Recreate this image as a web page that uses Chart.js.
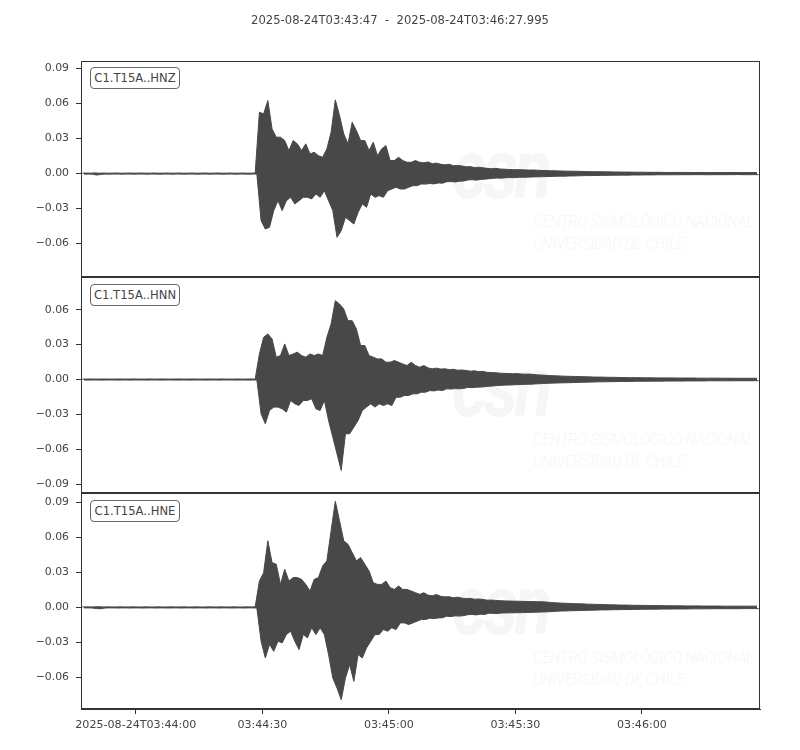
<!DOCTYPE html>
<html>
<head>
<meta charset="utf-8">
<script src="https://cdn.jsdelivr.net/npm/chart.js@4.4.1/dist/chart.umd.min.js"></script>
<style>
  html, body { margin: 0; padding: 0; background: #ffffff; }
  body { width: 800px; height: 750px; position: relative; overflow: hidden; font-family: "DejaVu Sans", sans-serif; }
  canvas { position: absolute; left: 0; z-index: 2; }
  #title { position: absolute; top: 13px; left: 0; width: 800px; text-align: center; font-size: 11.6px; line-height: 15px; color: #444; white-space: pre; z-index: 3; }
  .lbl { position: absolute; left: 90px; box-sizing: border-box; width: 90px; height: 22px; border: 1px solid #666; border-radius: 4px; background: #fff; font-size: 11.6px; line-height: 20px; text-align: center; color: #444; z-index: 3; }
  .wm { position: absolute; color: #f6f6f6; font-style: italic; z-index: 1; white-space: nowrap; font-family: "Roboto", "DejaVu Sans", sans-serif; transform-origin: left top; }
  .wm.big { font-size: 84px; font-weight: bold; letter-spacing: -4px; transform: scaleX(0.82); }
  .wm.small { font-size: 17px; font-weight: 300; transform: scaleX(0.86); }
</style>
</head>
<body>
<div id="title"></div>
<canvas id="c0" width="800" height="277" style="top:0px;width:800px;height:277px"></canvas>
<canvas id="c1" width="800" height="216" style="top:277px;width:800px;height:216px"></canvas>
<canvas id="c2" width="800" height="257" style="top:493px;width:800px;height:257px"></canvas>
<script>
// ---------------- DATA ----------------
const titleText = "2025-08-24T03:43:47  -  2025-08-24T03:46:27.995";
const stationLabels = ["C1.T15A..HNZ", "C1.T15A..HNN", "C1.T15A..HNE"];
const xTickSeconds = [13, 43, 73, 103, 133];            // seconds after 03:43:47
const xTickLabels = ["2025-08-24T03:44:00", "03:44:30", "03:45:00", "03:45:30", "03:46:00"];
const timeEnd = 160.995;
const yTicksHNZ = [-0.06, -0.03, 0.00, 0.03, 0.06, 0.09];
const yTicksHNN = [-0.09, -0.06, -0.03, 0.00, 0.03, 0.06];
const yTicksHNE = [-0.06, -0.03, 0.00, 0.03, 0.06, 0.09];
const yRangeHNZ = [-0.0886, 0.0965];
const yRangeHNN = [-0.0975, 0.0881];
const yRangeHNE = [-0.0868, 0.0978];

// per-second maximum / minimum amplitude, seconds 0..160 after 03:43:47
const hnzHi = [
0.0004,0.0005,0.0004,0.0006,0.0004,0.0005,0.0004,0.0004,0.0005,0.0004,
0.0004,0.0005,0.0004,0.0004,0.0005,0.0004,0.0004,0.0005,0.0004,0.0004,
0.0005,0.0004,0.0004,0.0005,0.0004,0.0004,0.0005,0.0004,0.0004,0.0005,
0.0004,0.0004,0.0005,0.0004,0.0004,0.0005,0.0004,0.0004,0.0005,0.0004,
0.0004,0.0005,
0.0526,0.0512,0.0626,0.0383,0.0312,0.0312,0.0283,0.0197,0.0283,0.0255,
0.0197,0.0255,0.0169,0.0183,0.0154,0.0140,0.0212,0.0355,0.0632,0.0498,
0.0340,0.0255,0.0440,0.0369,0.0283,0.0283,0.0197,0.0269,0.0154,0.0212,
0.0240,0.0112,0.0112,0.0140,0.0112,0.0097,0.0097,0.0112,0.0097,
0.0092,0.0100,0.0085,0.0090,0.0080,0.0075,0.0080,0.0068,0.0070,0.0066,
0.0058,0.0060,0.0052,0.0055,0.0050,0.0045,0.0042,0.0045,0.0040,0.0038,
0.0036,0.0035,0.0034,0.0033,0.0032,0.0030,0.0031,0.0029,0.0027,0.0026,
0.0025,0.0024,0.0023,0.0022,0.0021,0.0021,0.0020,0.0019,0.0018,0.0017,
0.0017,0.0016,0.0016,0.0015,0.0015,0.0014,0.0014,0.0013,0.0013,0.0013,
0.0012,0.0012,0.0012,0.0011,0.0011,0.0011,0.0011,0.0010,0.0010,0.0010,
0.0010,0.0010,0.0010,0.0010,0.0009,0.0010,0.0009,0.0009,0.0010,0.0009,
0.0009,0.0009,0.0010,0.0009,0.0009,0.0009,0.0009,0.0009,0.0009,0.0009];
const hnzLo = [
-0.0005,-0.0004,-0.0005,-0.0012,-0.0007,-0.0004,-0.0005,-0.0004,-0.0004,-0.0005,
-0.0004,-0.0004,-0.0005,-0.0004,-0.0004,-0.0005,-0.0004,-0.0004,-0.0005,-0.0004,
-0.0004,-0.0005,-0.0004,-0.0004,-0.0005,-0.0004,-0.0004,-0.0005,-0.0004,-0.0004,
-0.0005,-0.0004,-0.0004,-0.0005,-0.0004,-0.0004,-0.0005,-0.0004,-0.0004,-0.0005,
-0.0004,-0.0004,
-0.0403,-0.0475,-0.0460,-0.0317,-0.0232,-0.0317,-0.0232,-0.0203,-0.0260,-0.0232,
-0.0203,-0.0203,-0.0217,-0.0174,-0.0203,-0.0146,-0.0232,-0.0317,-0.0546,-0.0489,
-0.0375,-0.0403,-0.0432,-0.0332,-0.0260,-0.0289,-0.0174,-0.0203,-0.0189,-0.0203,
-0.0146,-0.0132,-0.0117,-0.0132,-0.0132,-0.0117,-0.0103,-0.0103,-0.0089,
-0.0090,-0.0085,-0.0088,-0.0080,-0.0082,-0.0070,-0.0068,-0.0072,-0.0065,-0.0064,
-0.0055,-0.0052,-0.0056,-0.0050,-0.0048,-0.0044,-0.0040,-0.0038,-0.0039,-0.0036,
-0.0034,-0.0035,-0.0032,-0.0031,-0.0031,-0.0029,-0.0028,-0.0027,-0.0026,-0.0025,
-0.0024,-0.0023,-0.0022,-0.0022,-0.0020,-0.0020,-0.0019,-0.0018,-0.0017,-0.0017,
-0.0016,-0.0016,-0.0015,-0.0015,-0.0014,-0.0014,-0.0013,-0.0013,-0.0013,-0.0012,
-0.0012,-0.0012,-0.0011,-0.0011,-0.0011,-0.0010,-0.0010,-0.0010,-0.0010,-0.0010,
-0.0010,-0.0009,-0.0010,-0.0009,-0.0009,-0.0009,-0.0009,-0.0010,-0.0009,-0.0009,
-0.0009,-0.0009,-0.0009,-0.0009,-0.0008,-0.0009,-0.0009,-0.0009,-0.0009,-0.0009];

const hnnHi = [
0.0004,0.0004,0.0005,0.0004,0.0004,0.0005,0.0004,0.0004,0.0004,0.0005,
0.0004,0.0004,0.0005,0.0004,0.0004,0.0004,0.0005,0.0004,0.0004,0.0005,
0.0004,0.0004,0.0004,0.0005,0.0004,0.0004,0.0005,0.0004,0.0004,0.0004,
0.0005,0.0004,0.0004,0.0005,0.0004,0.0004,0.0004,0.0005,0.0004,0.0004,
0.0005,0.0004,
0.0220,0.0363,0.0392,0.0349,0.0192,0.0206,0.0306,0.0206,0.0220,0.0235,
0.0206,0.0192,0.0220,0.0206,0.0220,0.0206,0.0363,0.0478,0.0678,0.0649,
0.0606,0.0506,0.0506,0.0435,0.0292,0.0292,0.0206,0.0192,0.0177,0.0177,
0.0149,0.0149,0.0163,0.0149,0.0134,0.0120,0.0149,0.0120,0.0106,
0.0120,0.0100,0.0092,0.0098,0.0090,0.0092,0.0085,0.0088,0.0080,0.0082,
0.0078,0.0072,0.0075,0.0068,0.0070,0.0062,0.0060,0.0058,0.0055,0.0052,
0.0052,0.0050,0.0051,0.0048,0.0046,0.0047,0.0044,0.0040,0.0038,0.0036,
0.0034,0.0032,0.0031,0.0029,0.0028,0.0027,0.0026,0.0025,0.0024,0.0023,
0.0022,0.0021,0.0021,0.0020,0.0019,0.0019,0.0018,0.0017,0.0017,0.0016,
0.0016,0.0016,0.0015,0.0015,0.0015,0.0014,0.0014,0.0014,0.0014,0.0014,
0.0013,0.0013,0.0013,0.0013,0.0013,0.0012,0.0012,0.0012,0.0012,0.0012,
0.0012,0.0011,0.0012,0.0011,0.0011,0.0011,0.0011,0.0011,0.0011,0.0011];
const hnnLo = [
-0.0004,-0.0005,-0.0004,-0.0004,-0.0005,-0.0004,-0.0004,-0.0004,-0.0005,-0.0004,
-0.0004,-0.0005,-0.0004,-0.0004,-0.0004,-0.0005,-0.0004,-0.0004,-0.0005,-0.0004,
-0.0004,-0.0004,-0.0005,-0.0004,-0.0004,-0.0005,-0.0004,-0.0004,-0.0004,-0.0005,
-0.0004,-0.0004,-0.0005,-0.0004,-0.0004,-0.0004,-0.0005,-0.0004,-0.0004,-0.0005,
-0.0004,-0.0004,
-0.0295,-0.0380,-0.0266,-0.0237,-0.0237,-0.0252,-0.0280,-0.0180,-0.0209,-0.0223,
-0.0180,-0.0180,-0.0166,-0.0252,-0.0266,-0.0180,-0.0352,-0.0495,-0.0638,-0.0781,
-0.0466,-0.0466,-0.0409,-0.0352,-0.0266,-0.0237,-0.0209,-0.0237,-0.0209,-0.0223,
-0.0209,-0.0223,-0.0152,-0.0152,-0.0137,-0.0137,-0.0123,-0.0123,-0.0109,
-0.0109,-0.0095,-0.0098,-0.0090,-0.0095,-0.0080,-0.0082,-0.0078,-0.0080,-0.0076,
-0.0068,-0.0070,-0.0066,-0.0065,-0.0062,-0.0058,-0.0055,-0.0052,-0.0050,-0.0048,
-0.0047,-0.0045,-0.0044,-0.0042,-0.0041,-0.0040,-0.0038,-0.0036,-0.0034,-0.0032,
-0.0031,-0.0030,-0.0029,-0.0028,-0.0027,-0.0026,-0.0025,-0.0024,-0.0023,-0.0022,
-0.0021,-0.0020,-0.0020,-0.0019,-0.0018,-0.0018,-0.0017,-0.0017,-0.0016,-0.0016,
-0.0015,-0.0015,-0.0015,-0.0014,-0.0014,-0.0014,-0.0014,-0.0013,-0.0013,-0.0013,
-0.0013,-0.0013,-0.0012,-0.0012,-0.0012,-0.0012,-0.0012,-0.0011,-0.0011,-0.0011,
-0.0011,-0.0011,-0.0011,-0.0011,-0.0010,-0.0011,-0.0010,-0.0011,-0.0010,-0.0010];

const hneHi = [
0.0004,0.0005,0.0004,0.0005,0.0006,0.0004,0.0005,0.0004,0.0004,0.0005,
0.0004,0.0004,0.0005,0.0004,0.0004,0.0005,0.0004,0.0004,0.0005,0.0004,
0.0004,0.0005,0.0004,0.0004,0.0005,0.0004,0.0004,0.0005,0.0004,0.0004,
0.0005,0.0004,0.0004,0.0005,0.0004,0.0004,0.0005,0.0004,0.0004,0.0005,
0.0004,0.0005,
0.0226,0.0297,0.0569,0.0383,0.0369,0.0197,0.0326,0.0226,0.0255,0.0255,
0.0240,0.0197,0.0140,0.0240,0.0255,0.0355,0.0398,0.0655,0.0907,0.0741,
0.0569,0.0540,0.0469,0.0398,0.0426,0.0369,0.0312,0.0212,0.0197,0.0197,
0.0226,0.0169,0.0154,0.0183,0.0154,0.0154,0.0140,0.0126,0.0112,
0.0126,0.0105,0.0100,0.0110,0.0095,0.0090,0.0092,0.0082,0.0088,0.0080,
0.0075,0.0078,0.0070,0.0072,0.0068,0.0062,0.0063,0.0060,0.0058,0.0056,
0.0055,0.0054,0.0053,0.0052,0.0051,0.0050,0.0050,0.0049,0.0048,0.0046,
0.0043,0.0040,0.0038,0.0036,0.0035,0.0033,0.0032,0.0031,0.0030,0.0028,
0.0027,0.0026,0.0025,0.0024,0.0023,0.0022,0.0021,0.0020,0.0020,0.0019,
0.0018,0.0018,0.0017,0.0017,0.0016,0.0016,0.0015,0.0015,0.0015,0.0014,
0.0014,0.0014,0.0013,0.0013,0.0013,0.0013,0.0012,0.0012,0.0012,0.0012,
0.0012,0.0011,0.0011,0.0011,0.0011,0.0011,0.0011,0.0011,0.0011,0.0011];
const hneLo = [
-0.0004,-0.0004,-0.0005,-0.0010,-0.0011,-0.0005,-0.0004,-0.0004,-0.0005,-0.0004,
-0.0004,-0.0005,-0.0004,-0.0004,-0.0005,-0.0004,-0.0004,-0.0005,-0.0004,-0.0004,
-0.0005,-0.0004,-0.0004,-0.0005,-0.0004,-0.0004,-0.0005,-0.0004,-0.0004,-0.0005,
-0.0004,-0.0004,-0.0005,-0.0004,-0.0004,-0.0005,-0.0004,-0.0004,-0.0005,-0.0004,
-0.0004,-0.0005,
-0.0289,-0.0432,-0.0317,-0.0375,-0.0289,-0.0303,-0.0232,-0.0203,-0.0289,-0.0360,
-0.0232,-0.0260,-0.0174,-0.0232,-0.0174,-0.0232,-0.0403,-0.0603,-0.0689,-0.0789,
-0.0603,-0.0489,-0.0632,-0.0403,-0.0432,-0.0346,-0.0289,-0.0232,-0.0232,-0.0189,
-0.0203,-0.0174,-0.0189,-0.0132,-0.0132,-0.0146,-0.0132,-0.0117,-0.0103,
-0.0103,-0.0092,-0.0095,-0.0090,-0.0088,-0.0075,-0.0078,-0.0072,-0.0074,-0.0070,
-0.0062,-0.0060,-0.0064,-0.0058,-0.0060,-0.0050,-0.0050,-0.0052,-0.0048,-0.0047,
-0.0046,-0.0046,-0.0045,-0.0044,-0.0043,-0.0042,-0.0041,-0.0040,-0.0039,-0.0037,
-0.0035,-0.0033,-0.0031,-0.0030,-0.0029,-0.0028,-0.0027,-0.0026,-0.0025,-0.0024,
-0.0023,-0.0022,-0.0021,-0.0021,-0.0020,-0.0019,-0.0019,-0.0018,-0.0018,-0.0017,
-0.0017,-0.0016,-0.0016,-0.0015,-0.0015,-0.0015,-0.0014,-0.0014,-0.0014,-0.0013,
-0.0013,-0.0013,-0.0013,-0.0012,-0.0012,-0.0012,-0.0012,-0.0012,-0.0011,-0.0011,
-0.0011,-0.0011,-0.0011,-0.0011,-0.0011,-0.0010,-0.0010,-0.0010,-0.0010,-0.0010];

// ---------------- RENDER ----------------
document.getElementById('title').textContent = titleText;

const INK = '#484848';
const AXIS = '#333333';
const TXT = '#444444';

function fmtY(v) {
  const s = Number(v).toFixed(2);
  return s.replace('-', '\u2212');
}

const framePlugin = {
  id: 'frame',
  afterDraw(chart) {
    const a = chart.chartArea, ctx = chart.ctx;
    ctx.save();
    ctx.strokeStyle = AXIS;
    ctx.lineWidth = 1;
    ctx.strokeRect(Math.round(a.left) + 0.5, Math.round(a.top) + 0.5,
                   Math.round(a.right - a.left) - 1, Math.round(a.bottom - a.top) - 1);
    ctx.restore();
  }
};

// upper and lower envelope traces (per-second max / min), band filled between them
function toPoints(arr, shift) {
  return arr.map((v, i) => ({x: i + shift, y: v}));
}

const panels = [
  {id: 'c0', hi: hnzHi, lo: hnzLo, range: yRangeHNZ, ticks: yTicksHNZ, showX: false, padTop: 61, label: stationLabels[0], top: 0},
  {id: 'c1', hi: hnnHi, lo: hnnLo, range: yRangeHNN, ticks: yTicksHNN, showX: false, padTop: 0, label: stationLabels[1], top: 277},
  {id: 'c2', hi: hneHi, lo: hneLo, range: yRangeHNE, ticks: yTicksHNE, showX: true, padTop: 0, label: stationLabels[2], top: 493}
];

panels.forEach((p, idx) => {
  new Chart(document.getElementById(p.id), {
    type: 'line',
    data: {
      datasets: [{
        data: toPoints(p.hi, 0.3),
        borderColor: INK,
        backgroundColor: INK,
        borderWidth: 1,
        pointRadius: 0,
        tension: 0,
        fill: '+1'
      }, {
        data: toPoints(p.lo, 0.7),
        borderColor: INK,
        borderWidth: 1,
        pointRadius: 0,
        tension: 0,
        fill: false
      }]
    },
    options: {
      responsive: false,
      animation: false,
      devicePixelRatio: 1,
      parsing: false,
      normalized: true,
      events: [],
      layout: {padding: {top: p.padTop, right: 40, bottom: 0, left: 0}},
      plugins: {legend: {display: false}, tooltip: {enabled: false}, title: {display: false}, filler: {propagate: false}},
      scales: {
        x: {
          type: 'linear',
          min: 0,
          max: timeEnd,
          bounds: 'data',
          display: p.showX,
          afterBuildTicks: s => { s.ticks = xTickSeconds.map(v => ({value: v})); },
          afterFit: s => { s.height = p.showX ? 41 : 0; s.paddingLeft = 0; s.paddingRight = 0; },
          ticks: {
            autoSkip: false, maxRotation: 0, minRotation: 0, padding: 4,
            color: TXT, font: {family: 'DejaVu Sans', size: 11.1},
            callback: (v) => xTickLabels[xTickSeconds.indexOf(v)]
          },
          grid: {display: true, drawOnChartArea: false, drawTicks: true, tickLength: 5, tickColor: AXIS, tickWidth: 1},
          border: {display: true, color: AXIS, width: 1}
        },
        y: {
          type: 'linear',
          min: p.range[0],
          max: p.range[1],
          afterBuildTicks: s => { s.ticks = p.ticks.map(v => ({value: v})); },
          afterFit: s => { s.width = 81; s.paddingTop = 0; s.paddingBottom = 0; },
          ticks: {
            padding: 7, color: TXT, font: {family: 'DejaVu Sans', size: 10.9},
            callback: (v) => fmtY(v)
          },
          grid: {display: true, drawOnChartArea: false, drawTicks: true, tickLength: 5, tickColor: AXIS, tickWidth: 1},
          border: {display: true, color: AXIS, width: 1}
        }
      }
    },
    plugins: [framePlugin]
  });

  // station label box
  const lb = document.createElement('div');
  lb.className = 'lbl';
  lb.style.top = (p.top + (idx === 0 ? 67 : 7)) + 'px';
  lb.textContent = p.label;
  document.body.appendChild(lb);

  // faint watermark
  const off = idx * 218;
  const w1 = document.createElement('div');
  w1.className = 'wm big'; w1.style.left = '452px'; w1.style.top = (120 + off) + 'px';
  w1.textContent = 'csn';
  document.body.appendChild(w1);
  const w2 = document.createElement('div');
  w2.className = 'wm small'; w2.style.left = '533px'; w2.style.top = (211 + off) + 'px';
  w2.textContent = 'CENTRO SISMOLÓGICO NACIONAL';
  document.body.appendChild(w2);
  const w3 = document.createElement('div');
  w3.className = 'wm small'; w3.style.left = '533px'; w3.style.top = (233 + off) + 'px';
  w3.textContent = 'UNIVERSIDAD DE CHILE';
  document.body.appendChild(w3);
});
</script>
</body>
</html>
